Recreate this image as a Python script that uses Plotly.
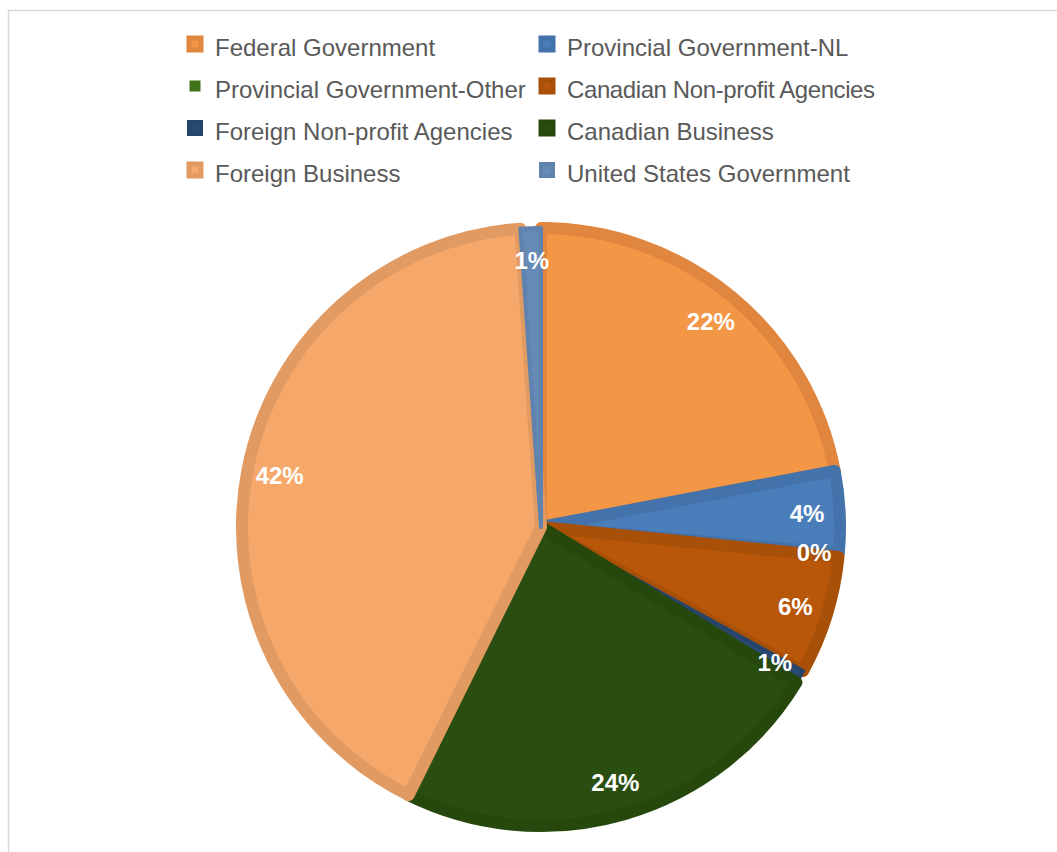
import plotly.graph_objects as go

labels = ["Federal Government", "Provincial Government-NL", "Provincial Government-Other",
          "Canadian Non-profit Agencies", "Foreign Non-profit Agencies", "Canadian Business",
          "Foreign Business", "United States Government"]
values = [22.0, 4.4, 0.2, 6.4, 0.7, 23.6, 41.6, 1.1]
fill_colors = ["#F39646", "#4A7EBB", "#3F7319", "#B8560A", "#2A4B73", "#2A4E0F", "#F5A86A", "#668AB6"]
line_colors = ["#E0863E", "#4473AC", "#FFFFFF", "#A84F08", "#27456B", "#26480C", "#E19A62", "#5F82AE"]
line_widths = [12, 12, 1, 12, 4, 12, 12, 4]
legend_letter_spacing = ["0px", "0px", "0px", "-0.4px", "0px", "0px", "0px", "0px"]

W, H = 1057, 852
cx, cy, R = 541, 527, 299
FONT = "Arial, Liberation Sans, sans-serif"


def dom(r):
    return dict(x=[(cx - r) / W, (cx + r) / W], y=[1 - (cy + r) / H, 1 - (cy - r) / H])


small = [v < 2 for v in values]
legend_names = [f"<span style='font-size:24px;letter-spacing:{ls}'>{l}</span>"
                for l, ls in zip(labels, legend_letter_spacing)]

fig = go.Figure()
# main pie
fig.add_trace(go.Pie(
    labels=legend_names, values=values, sort=False, direction="clockwise", rotation=0,
    marker=dict(colors=fill_colors, line=dict(color=line_colors, width=line_widths)),
    textinfo="none", domain=dom(R), hovertemplate="%{label}: %{percent}<extra></extra>",
    legend="legend",
))
# label layer for larger slices (text placed near the rim)
fig.add_trace(go.Pie(
    labels=legend_names, values=values, sort=False, direction="clockwise", rotation=0,
    hole=0.77, showlegend=False, hoverinfo="skip", legend="legend2",
    marker=dict(colors=["rgba(0,0,0,0)"] * len(values), line=dict(width=0)),
    texttemplate=["" if s else "%{percent:.0%}" for s in small],
    textposition="inside", insidetextorientation="horizontal",
    textfont=dict(family=FONT, size=24, color="white", weight="bold"),
    domain=dom(R + 2),
))
# label layer for the thin slices
fig.add_trace(go.Pie(
    labels=legend_names, values=values, sort=False, direction="clockwise", rotation=0,
    showlegend=False, hoverinfo="skip", legend="legend2",
    marker=dict(colors=["rgba(0,0,0,0)"] * len(values), line=dict(width=0)),
    texttemplate=["%{percent:.0%}" if s else "" for s in small],
    textposition="inside", insidetextorientation="horizontal",
    textfont=dict(family=FONT, size=24, color="white", weight="bold"),
    domain=dom(276),
))

fig.update_layout(
    width=W, height=H,
    margin=dict(l=0, r=0, t=0, b=0),
    paper_bgcolor="white",
    plot_bgcolor="white",
    uniformtext=dict(minsize=24, mode="show"),
    font=dict(family=FONT, color="#595959"),
    legend=dict(
        orientation="h",
        x=165 / W, xanchor="left",
        y=1 - 8 / H, yanchor="top",
        entrywidth=307, entrywidthmode="pixels",
        font=dict(size=30, color="#595959"),
        itemwidth=30,
        traceorder="normal",
        bgcolor="rgba(0,0,0,0)",
        borderwidth=10, bordercolor="rgba(0,0,0,0)",
    ),
    legend2=dict(visible=False),
    shapes=[dict(type="rect", xref="paper", yref="paper",
                 x0=8.5 / W, x1=1.02, y0=-0.02, y1=1 - 10.5 / H,
                 line=dict(color="#D9D9D9", width=1.5), fillcolor="rgba(0,0,0,0)", layer="below")],
)

fig.write_html("out.html")
